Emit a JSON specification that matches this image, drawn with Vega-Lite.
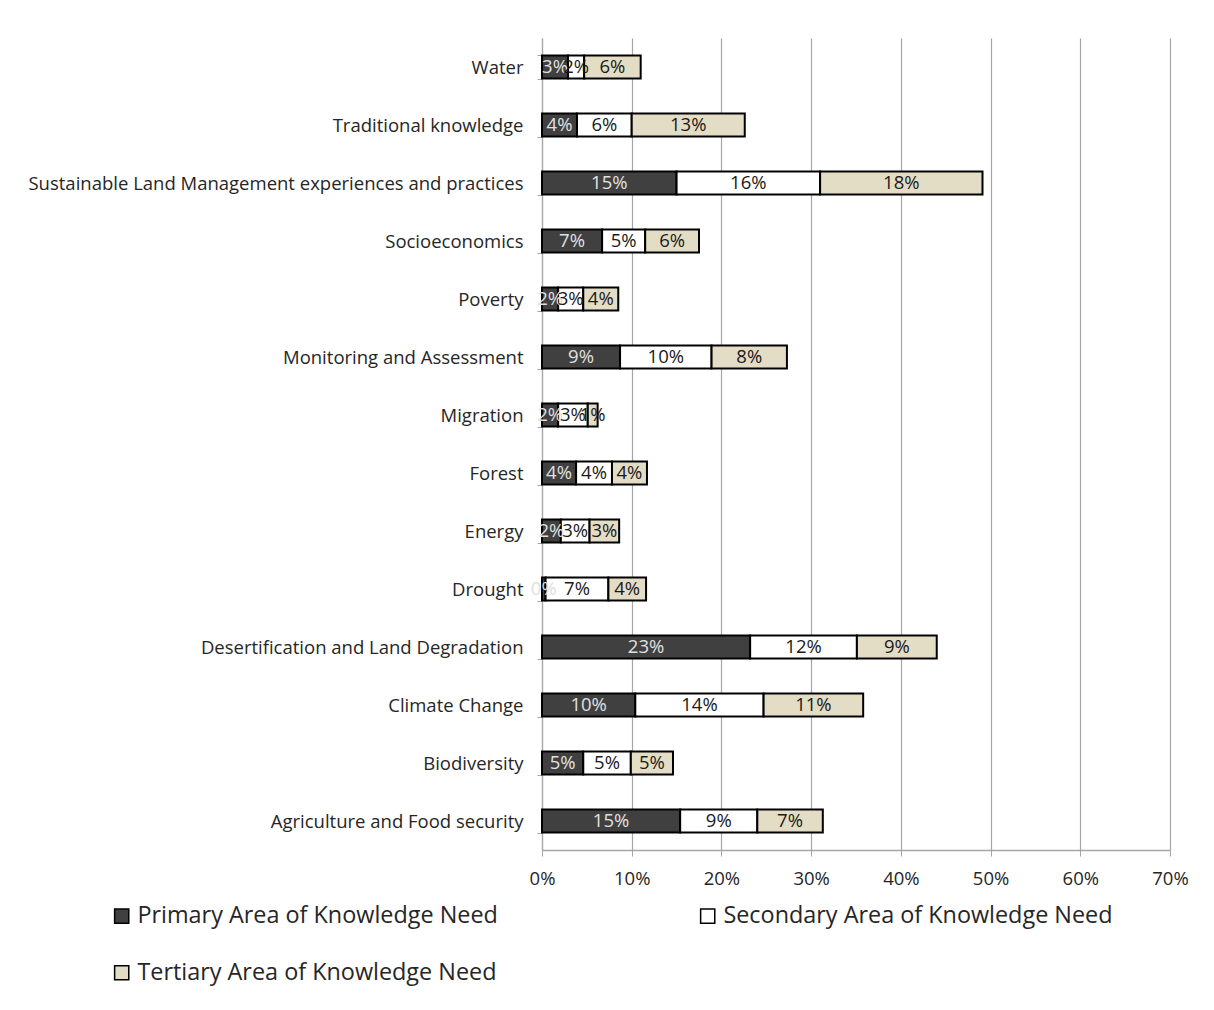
{
  "$schema": "https://vega.github.io/schema/vega-lite/v6.json",
  "width": 628,
  "height": 812,
  "autosize": {"type": "none"},
  "padding": {"left": 542, "top": 38, "right": 44, "bottom": 160},
  "background": "white",
  "config": {
    "view": {"stroke": null},
    "font": "Open Sans"
  },
  "data": {
    "values": [
      {"cat": "Water", "series": "Primary Area of Knowledge Need", "v": 0.029},
      {"cat": "Water", "series": "Secondary Area of Knowledge Need", "v": 0.018},
      {"cat": "Water", "series": "Tertiary Area of Knowledge Need", "v": 0.063},
      {"cat": "Traditional knowledge", "series": "Primary Area of Knowledge Need", "v": 0.039},
      {"cat": "Traditional knowledge", "series": "Secondary Area of Knowledge Need", "v": 0.061},
      {"cat": "Traditional knowledge", "series": "Tertiary Area of Knowledge Need", "v": 0.126},
      {"cat": "Sustainable Land Management experiences and practices", "series": "Primary Area of Knowledge Need", "v": 0.150},
      {"cat": "Sustainable Land Management experiences and practices", "series": "Secondary Area of Knowledge Need", "v": 0.160},
      {"cat": "Sustainable Land Management experiences and practices", "series": "Tertiary Area of Knowledge Need", "v": 0.181},
      {"cat": "Socioeconomics", "series": "Primary Area of Knowledge Need", "v": 0.067},
      {"cat": "Socioeconomics", "series": "Secondary Area of Knowledge Need", "v": 0.048},
      {"cat": "Socioeconomics", "series": "Tertiary Area of Knowledge Need", "v": 0.060},
      {"cat": "Poverty", "series": "Primary Area of Knowledge Need", "v": 0.018},
      {"cat": "Poverty", "series": "Secondary Area of Knowledge Need", "v": 0.028},
      {"cat": "Poverty", "series": "Tertiary Area of Knowledge Need", "v": 0.039},
      {"cat": "Monitoring and Assessment", "series": "Primary Area of Knowledge Need", "v": 0.087},
      {"cat": "Monitoring and Assessment", "series": "Secondary Area of Knowledge Need", "v": 0.102},
      {"cat": "Monitoring and Assessment", "series": "Tertiary Area of Knowledge Need", "v": 0.084},
      {"cat": "Migration", "series": "Primary Area of Knowledge Need", "v": 0.018},
      {"cat": "Migration", "series": "Secondary Area of Knowledge Need", "v": 0.033},
      {"cat": "Migration", "series": "Tertiary Area of Knowledge Need", "v": 0.011},
      {"cat": "Forest", "series": "Primary Area of Knowledge Need", "v": 0.038},
      {"cat": "Forest", "series": "Secondary Area of Knowledge Need", "v": 0.040},
      {"cat": "Forest", "series": "Tertiary Area of Knowledge Need", "v": 0.039},
      {"cat": "Energy", "series": "Primary Area of Knowledge Need", "v": 0.021},
      {"cat": "Energy", "series": "Secondary Area of Knowledge Need", "v": 0.032},
      {"cat": "Energy", "series": "Tertiary Area of Knowledge Need", "v": 0.033},
      {"cat": "Drought", "series": "Primary Area of Knowledge Need", "v": 0.004},
      {"cat": "Drought", "series": "Secondary Area of Knowledge Need", "v": 0.070},
      {"cat": "Drought", "series": "Tertiary Area of Knowledge Need", "v": 0.042},
      {"cat": "Desertification and Land Degradation", "series": "Primary Area of Knowledge Need", "v": 0.232},
      {"cat": "Desertification and Land Degradation", "series": "Secondary Area of Knowledge Need", "v": 0.119},
      {"cat": "Desertification and Land Degradation", "series": "Tertiary Area of Knowledge Need", "v": 0.089},
      {"cat": "Climate Change", "series": "Primary Area of Knowledge Need", "v": 0.104},
      {"cat": "Climate Change", "series": "Secondary Area of Knowledge Need", "v": 0.143},
      {"cat": "Climate Change", "series": "Tertiary Area of Knowledge Need", "v": 0.111},
      {"cat": "Biodiversity", "series": "Primary Area of Knowledge Need", "v": 0.046},
      {"cat": "Biodiversity", "series": "Secondary Area of Knowledge Need", "v": 0.053},
      {"cat": "Biodiversity", "series": "Tertiary Area of Knowledge Need", "v": 0.047},
      {"cat": "Agriculture and Food security", "series": "Primary Area of Knowledge Need", "v": 0.154},
      {"cat": "Agriculture and Food security", "series": "Secondary Area of Knowledge Need", "v": 0.086},
      {"cat": "Agriculture and Food security", "series": "Tertiary Area of Knowledge Need", "v": 0.073}
    ]
  },
  "encoding": {
    "y": {
      "field": "cat",
      "type": "nominal",
      "sort": "descending",
      "scale": {"paddingInner": 0.6, "paddingOuter": 0.3},
      "axis": {
        "title": null,
        "domainColor": "#a6a6a6",
        "domainWidth": 1.2,
        "tickColor": "#a6a6a6",
        "tickSize": 5,
        "tickBand": "extent",
        "labelFontSize": 18.5,
        "labelColor": "#262626",
        "labelPadding": 14,
        "labelLimit": 600
      }
    }
  },
  "layer": [
    {
      "mark": {"type": "bar", "stroke": "black", "strokeWidth": 2},
      "encoding": {
        "x": {
          "field": "v",
          "type": "quantitative",
          "stack": "zero",
          "scale": {"domain": [0, 0.7], "nice": false},
          "axis": {
            "title": null,
            "format": ".0%",
            "values": [0, 0.1, 0.2, 0.3, 0.4, 0.5, 0.6, 0.7],
            "grid": true,
            "gridColor": "#a6a6a6",
            "gridWidth": 1.2,
            "domainColor": "#a6a6a6",
            "domainWidth": 1.5,
            "tickColor": "#a6a6a6",
            "tickSize": 6,
            "labelFlush": false,
            "labelFontSize": 18.5,
            "labelColor": "#262626",
            "labelPadding": 13
          }
        },
        "order": {"field": "series", "sort": "ascending"},
        "color": {
          "field": "series",
          "type": "nominal",
          "scale": {
            "domain": ["Primary Area of Knowledge Need", "Secondary Area of Knowledge Need", "Tertiary Area of Knowledge Need"],
            "range": ["#404040", "#ffffff", "#e4ddc6"]
          },
          "legend": {
            "title": null,
            "orient": "none",
            "legendX": -432,
            "legendY": 866,
            "direction": "horizontal",
            "columns": 2,
            "columnPadding": 198,
            "rowPadding": 32,
            "symbolType": "square",
            "symbolSize": 200,
            "symbolStrokeColor": "black",
            "symbolStrokeWidth": 1.5,
            "labelFontSize": 23.4,
            "labelColor": "#262626",
            "labelOffset": 4,
            "labelLimit": 600
          }
        }
      }
    },
    {
      "mark": {"type": "text", "fontSize": 18.5, "align": "center", "baseline": "middle"},
      "encoding": {
        "x": {"field": "v", "type": "quantitative", "stack": "zero", "bandPosition": 0.5},
        "order": {"field": "series", "sort": "ascending"},
        "detail": {"field": "series"},
        "text": {"field": "v", "type": "quantitative", "format": ".0%"},
        "color": {
          "condition": {"test": "datum.series === 'Primary Area of Knowledge Need'", "value": "#e0e0e0"},
          "value": "#1a1a1a"
        }
      }
    }
  ]
}
